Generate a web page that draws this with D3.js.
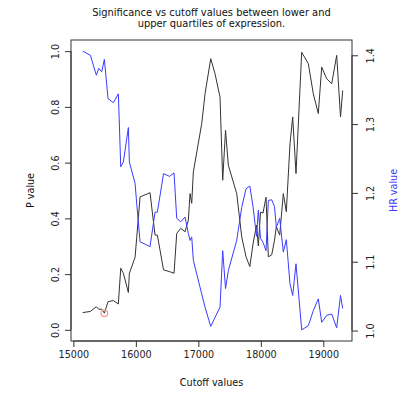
<!DOCTYPE html>
<html>
<head>
<meta charset="utf-8">
<script src="https://cdn.jsdelivr.net/npm/d3@7"></script>
<style>
  html, body { margin: 0; padding: 0; background: #fff; }
  svg { display: block; font-family: "DejaVu Sans", sans-serif; }
</style>
</head>
<body>
<svg id="chart" width="398" height="395"></svg>
<script>
// Cutoff values tested between the lower and upper expression quartiles
const cutoffs = [
  15150, 15272, 15368, 15406, 15454, 15496, 15555, 15640, 15720, 15758,
  15800, 15880, 15896, 15987, 16014, 16067, 16227, 16307, 16344, 16443,
  16539, 16611, 16654, 16718, 16787, 16840, 16867, 16894, 16920, 17054,
  17107, 17198, 17267, 17347, 17390, 17435, 17480, 17614, 17694, 17763,
  17824, 17875, 17931, 17960, 17995, 18035, 18083, 18120, 18174, 18219,
  18248, 18302, 18360, 18408, 18467, 18510, 18563, 18654, 18760, 18840,
  18920, 18974, 19054, 19134, 19214, 19275, 19310
];

// Log-rank p value at each cutoff
const pValues = [
  0.062, 0.066, 0.083, 0.074, 0.074, 0.060, 0.101, 0.105, 0.093, 0.221,
  0.203, 0.134, 0.203, 0.260, 0.332, 0.477, 0.492, 0.340, 0.340, 0.215,
  0.209, 0.203, 0.346, 0.364, 0.352, 0.394, 0.489, 0.454, 0.567, 0.740,
  0.847, 0.973, 0.919, 0.835, 0.537, 0.716, 0.591, 0.489, 0.334, 0.262,
  0.227, 0.308, 0.376, 0.301, 0.422, 0.419, 0.476, 0.262, 0.269, 0.322,
  0.370, 0.340, 0.489, 0.424, 0.668, 0.764, 0.561, 0.996, 0.955, 0.847,
  0.776, 0.943, 0.901, 0.883, 0.985, 0.764, 0.859
];

// Hazard ratio at each cutoff
const hrValues = [
  1.406, 1.400, 1.371, 1.381, 1.376, 1.394, 1.337, 1.331, 1.344, 1.238,
  1.245, 1.295, 1.245, 1.214, 1.184, 1.129, 1.122, 1.172, 1.172, 1.228,
  1.224, 1.229, 1.163, 1.158, 1.165, 1.141, 1.131, 1.136, 1.102, 1.053,
  1.034, 1.006, 1.019, 1.034, 1.116, 1.061, 1.087, 1.131, 1.179, 1.206,
  1.210, 1.180, 1.137, 1.175, 1.134, 1.128, 1.116, 1.189, 1.190, 1.180,
  1.150, 1.163, 1.114, 1.132, 1.068, 1.051, 1.097, 1.001, 1.007, 1.029,
  1.046, 1.012, 1.022, 1.024, 1.004, 1.051, 1.032
];

// Cutoff with the smallest p value (highlighted)
const bestCutoff = [15496];
const bestP = [0.060];

const xTicks = [15000, 16000, 17000, 18000, 19000];
const pTicks = [0.0, 0.2, 0.4, 0.6, 0.8, 1.0];
const hrTicks = [1.0, 1.1, 1.2, 1.3, 1.4];

const titleLines = ["Significance vs cutoff values between lower and", "upper quartiles of expression."];

const box = { left: 71, right: 352, top: 40, bottom: 341 };
const svg = d3.select("#chart");

// base-graphics style range padding (4% on each side)
function padded(ext) {
  const d = (ext[1] - ext[0]) * 0.04;
  return [ext[0] - d, ext[1] + d];
}

const x = d3.scaleLinear().domain([14962, 19459]).range([box.left, box.right]);
const yP = d3.scaleLinear().domain(padded([0, 1])).range([box.bottom, box.top]);
const yHR = d3.scaleLinear().domain(padded(d3.extent(hrValues))).range([box.bottom, box.top]);

const fs = 9.6;
const axisColor = "#333";

// P value line
const pLine = d3.line().x((d, i) => x(cutoffs[i])).y(d => yP(d));
svg.append("path").datum(pValues)
  .attr("d", pLine).attr("fill", "none")
  .attr("stroke", "#333").attr("stroke-width", 1);

// HR line
const hrLine = d3.line().x((d, i) => x(cutoffs[i])).y(d => yHR(d));
svg.append("path").datum(hrValues)
  .attr("d", hrLine).attr("fill", "none")
  .attr("stroke", "#3b3bff").attr("stroke-width", 1);

// highlighted minimum p
svg.selectAll("circle.best").data(bestCutoff).enter().append("circle")
  .attr("cx", d => x(d)).attr("cy", (d, i) => yP(bestP[i])).attr("r", 3.3)
  .attr("fill", "none").attr("stroke", "#f29a9a").attr("stroke-width", 1.2);

// plot frame
svg.append("rect")
  .attr("x", box.left).attr("y", box.top)
  .attr("width", box.right - box.left).attr("height", box.bottom - box.top)
  .attr("fill", "none").attr("stroke", axisColor).attr("stroke-width", 1);

// bottom axis
const xAxis = svg.append("g").attr("transform", `translate(0,${box.bottom})`)
  .call(d3.axisBottom(x).tickValues(xTicks).tickFormat(d3.format("d")).tickSize(6).tickPadding(4));
xAxis.select(".domain").attr("d", `M${x(xTicks[0])},0H${x(xTicks[xTicks.length - 1])}`).attr("stroke", axisColor);
xAxis.selectAll(".tick line").attr("stroke", axisColor);
xAxis.selectAll(".tick text").attr("font-size", fs).attr("fill", "#222").attr("font-family", "DejaVu Sans");

// left axis (p value)
const yAxisL = svg.append("g").attr("transform", `translate(${box.left},0)`)
  .call(d3.axisLeft(yP).tickValues(pTicks).tickFormat(d3.format(".1f")).tickSize(6));
yAxisL.select(".domain").attr("d", `M0,${yP(0)}V${yP(1)}`).attr("stroke", axisColor);
yAxisL.selectAll(".tick line").attr("stroke", axisColor);
yAxisL.selectAll(".tick text")
  .attr("font-size", fs).attr("fill", "#222").attr("font-family", "DejaVu Sans")
  .attr("x", null).attr("dy", null)
  .attr("text-anchor", "middle").attr("dominant-baseline", "central")
  .attr("transform", "translate(-16,0) rotate(-90)");

// right axis (HR)
const yAxisR = svg.append("g").attr("transform", `translate(${box.right},0)`)
  .call(d3.axisRight(yHR).tickValues(hrTicks).tickFormat(d3.format(".1f")).tickSize(6));
yAxisR.select(".domain").attr("d", `M0,${yHR(1.0)}V${yHR(1.4)}`).attr("stroke", axisColor);
yAxisR.selectAll(".tick line").attr("stroke", axisColor);
yAxisR.selectAll(".tick text")
  .attr("font-size", fs).attr("fill", "#222").attr("font-family", "DejaVu Sans")
  .attr("x", null).attr("dy", null)
  .attr("text-anchor", "middle").attr("dominant-baseline", "central")
  .attr("transform", "translate(18,0) rotate(-90)");

// titles
const cx = (box.left + box.right) / 2;
svg.selectAll("text.title").data(titleLines).enter().append("text")
  .attr("class", "title")
  .attr("x", cx).attr("y", (d, i) => 12 + i * 11.8)
  .attr("text-anchor", "middle").attr("dominant-baseline", "central")
  .attr("font-size", 9.9).attr("fill", "#111")
  .text(d => d);

svg.append("text")
  .attr("x", cx).attr("y", 382)
  .attr("text-anchor", "middle").attr("dominant-baseline", "central")
  .attr("font-size", fs).attr("fill", "#111")
  .text("Cutoff values");

svg.append("text")
  .attr("transform", `translate(30,${(box.top + box.bottom) / 2}) rotate(-90)`)
  .attr("text-anchor", "middle").attr("dominant-baseline", "central")
  .attr("font-size", fs).attr("fill", "#111")
  .text("P value");

svg.append("text")
  .attr("transform", `translate(393,${(box.top + box.bottom) / 2}) rotate(-90)`)
  .attr("text-anchor", "middle").attr("dominant-baseline", "central")
  .attr("font-size", fs).attr("fill", "#3b3bff")
  .text("HR value");
</script>
</body>
</html>
